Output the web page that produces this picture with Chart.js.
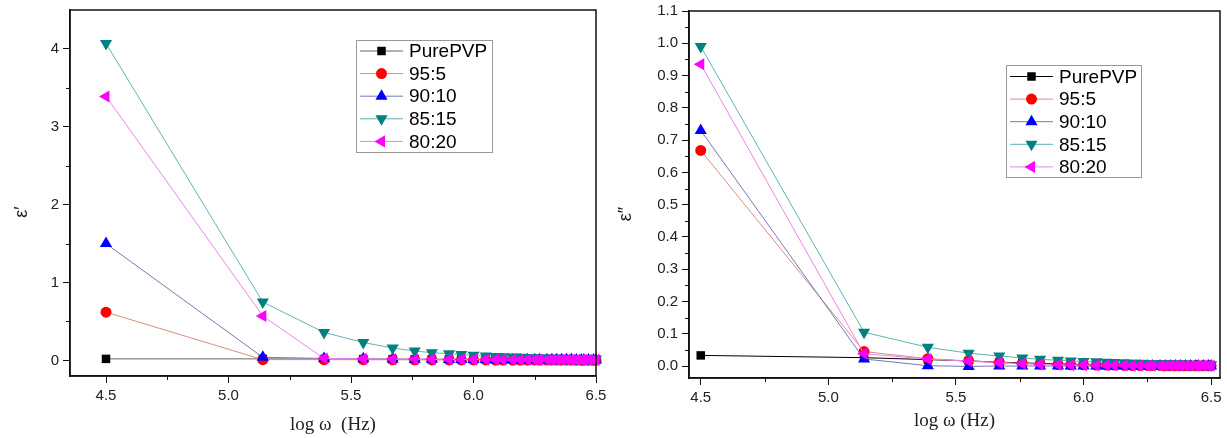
<!DOCTYPE html>
<html>
<head>
<meta charset="utf-8">
<script src="https://cdn.jsdelivr.net/npm/chart.js@4.4.1/dist/chart.umd.min.js"></script>
<style>
  html, body { margin: 0; padding: 0; background: #fff; }
  #left  { position: absolute; left: 0;     top: 0; width: 612px; height: 438px; }
  #right { position: absolute; left: 612px; top: 0; width: 615px; height: 438px; }
</style>
</head>
<body>
<div id="left"><canvas id="realChart"></canvas></div>
<div id="right"><canvas id="imagChart"></canvas></div>
<script>
// x values: log of angular frequency
const logW = [4.50, 5.14, 5.39, 5.55, 5.67, 5.76, 5.83, 5.90, 5.95, 6.00,
              6.05, 6.09, 6.12, 6.16, 6.19, 6.22, 6.25, 6.27, 6.30, 6.32,
              6.34, 6.36, 6.38, 6.40, 6.42, 6.44, 6.45, 6.47, 6.49, 6.50];

const seriesNames = ['PurePVP', '95:5', '90:10', '85:15', '80:20'];

// real part (left)
const epsR_pure = [0.020, 0.020, 0.018, 0.017, 0.016, 0.015, 0.015, 0.014, 0.014, 0.013,
                   0.013, 0.013, 0.012, 0.012, 0.012, 0.012, 0.011, 0.011, 0.011, 0.011,
                   0.011, 0.010, 0.010, 0.010, 0.010, 0.010, 0.010, 0.010, 0.010, 0.010];
const epsR_95   = [0.620, 0.010, 0.010, 0.009, 0.008, 0.008, 0.007, 0.007, 0.006, 0.006,
                   0.006, 0.005, 0.005, 0.005, 0.005, 0.005, 0.004, 0.004, 0.004, 0.004,
                   0.004, 0.004, 0.004, 0.004, 0.003, 0.003, 0.003, 0.003, 0.003, 0.003];
const epsR_90   = [1.500, 0.040, 0.025, 0.020, 0.017, 0.015, 0.014, 0.013, 0.012, 0.011,
                   0.011, 0.010, 0.010, 0.010, 0.009, 0.009, 0.009, 0.009, 0.008, 0.008,
                   0.008, 0.008, 0.008, 0.008, 0.007, 0.007, 0.007, 0.007, 0.007, 0.007];
const epsR_85   = [4.070, 0.750, 0.360, 0.230, 0.160, 0.120, 0.100, 0.085, 0.075, 0.065,
                   0.058, 0.052, 0.047, 0.043, 0.040, 0.037, 0.034, 0.032, 0.030, 0.028,
                   0.027, 0.025, 0.024, 0.023, 0.022, 0.021, 0.020, 0.019, 0.019, 0.018];
const epsR_80   = [3.390, 0.570, 0.025, 0.020, 0.017, 0.015, 0.014, 0.013, 0.012, 0.011,
                   0.011, 0.010, 0.010, 0.010, 0.009, 0.009, 0.009, 0.009, 0.008, 0.008,
                   0.008, 0.008, 0.008, 0.008, 0.007, 0.007, 0.007, 0.007, 0.007, 0.007];

// imaginary part (right)
const epsI_pure = [0.033, 0.026, 0.020, 0.016, 0.012, 0.010, 0.008, 0.007, 0.006, 0.005,
                   0.005, 0.004, 0.004, 0.004, 0.003, 0.003, 0.003, 0.003, 0.003, 0.002,
                   0.002, 0.002, 0.002, 0.002, 0.002, 0.002, 0.002, 0.002, 0.002, 0.002];
const epsI_95   = [0.668, 0.045, 0.023, 0.016, 0.011, 0.008, 0.006, 0.005, 0.004, 0.004,
                   0.003, 0.003, 0.003, 0.002, 0.002, 0.002, 0.002, 0.002, 0.002, 0.001,
                   0.001, 0.001, 0.001, 0.001, 0.001, 0.001, 0.001, 0.001, 0.001, 0.001];
const epsI_90   = [0.730, 0.022, 0.001, -0.001, 0.000, 0.000, 0.000, 0.000, 0.000, 0.000,
                   0.000, 0.000, 0.000, 0.000, 0.000, 0.000, 0.000, 0.000, 0.000, 0.000,
                   0.000, 0.000, 0.000, 0.000, 0.000, 0.000, 0.000, 0.000, 0.000, 0.000];
const epsI_85   = [0.990, 0.105, 0.058, 0.040, 0.031, 0.025, 0.021, 0.018, 0.016, 0.014,
                   0.013, 0.012, 0.011, 0.010, 0.009, 0.009, 0.008, 0.008, 0.007, 0.007,
                   0.007, 0.006, 0.006, 0.006, 0.005, 0.005, 0.005, 0.005, 0.004, 0.004];
const epsI_80   = [0.935, 0.038, 0.022, 0.015, 0.010, 0.007, 0.005, 0.004, 0.003, 0.003,
                   0.002, 0.002, 0.002, 0.002, 0.001, 0.001, 0.001, 0.001, 0.001, 0.001,
                   0.001, 0.001, 0.001, 0.001, 0.001, 0.001, 0.001, 0.001, 0.001, 0.001];

const xTicks = [4.5, 5.0, 5.5, 6.0, 6.5];

// marker / line look per series
const looks = [
  { line: '#555555', fill: '#000000', style: 'rect',     rot: 0,   r: 6 },
  { line: '#e08a80', fill: '#ff0000', style: 'circle',   rot: 0,   r: 5.5 },
  { line: '#7777b8', fill: '#0000ff', style: 'triangle', rot: 0,   r: 7 },
  { line: '#5fb3b3', fill: '#008080', style: 'triangle', rot: 180, r: 7 },
  { line: '#ee80ee', fill: '#ff00ff', style: 'triangle', rot: 270, r: 7 }
];

const sansFont = '"Liberation Sans", Arial, sans-serif';
const serifFont = '"Liberation Serif", "Times New Roman", serif';

function buildSets(list, pureLine) {
  return list.map((vals, i) => {
    const lk = looks[i];
    return {
      label: seriesNames[i],
      data: logW.map((x, k) => ({ x: x, y: vals[k] })),
      borderColor: i === 0 ? pureLine : lk.line,
      borderWidth: 1,
      pointStyle: lk.style,
      pointRotation: lk.rot,
      pointRadius: lk.r,
      pointBackgroundColor: lk.fill,
      pointBorderWidth: 0,
      tension: 0,
      clip: false,
      order: 5 - i
    };
  });
}

// frame, minor ticks, y title and boxed legend
const decor = {
  id: 'decor',
  afterDraw(chart, args, o) {
    const { ctx, chartArea: a } = chart;
    const xs = chart.scales.x, ys = chart.scales.y;
    ctx.save();
    ctx.strokeStyle = '#111';
    ctx.lineWidth = 1.5;
    ctx.strokeRect(a.left, a.top, a.right - a.left, a.bottom - a.top);

    ctx.lineWidth = 1;
    ctx.beginPath();
    for (let v = Math.ceil(xs.min / o.xMinor) * o.xMinor; v <= xs.max + 1e-9; v += o.xMinor) {
      if (Math.abs(v / o.xMajor - Math.round(v / o.xMajor)) < 1e-6) continue;
      const px = Math.round(xs.getPixelForValue(v)) + 0.5;
      ctx.moveTo(px, a.bottom); ctx.lineTo(px, a.bottom + 4);
    }
    for (let v = Math.ceil(ys.min / o.yMinor) * o.yMinor; v <= ys.max - 1e-6; v += o.yMinor) {
      if (Math.abs(v / o.yMajor - Math.round(v / o.yMajor)) < 1e-6) continue;
      const py = Math.round(ys.getPixelForValue(v)) + 0.5;
      ctx.moveTo(a.left, py); ctx.lineTo(a.left - 4, py);
    }
    ctx.stroke();

    // y title
    ctx.save();
    ctx.translate(o.titleX, o.titleY);
    ctx.rotate(-Math.PI / 2);
    ctx.fillStyle = '#222';
    ctx.font = '18px ' + sansFont;
    ctx.textAlign = 'center';
    ctx.textBaseline = 'middle';
    ctx.fillText(o.title, 0, 0);
    ctx.restore();

    // legend
    const L = o.legend;
    ctx.fillStyle = '#fff';
    ctx.fillRect(L.x, L.y, L.w, L.h);
    ctx.strokeStyle = '#999';
    ctx.lineWidth = 1;
    ctx.strokeRect(L.x + 0.5, L.y + 0.5, L.w, L.h);
    ctx.font = '19px ' + sansFont;
    ctx.textBaseline = 'middle';
    ctx.textAlign = 'left';
    chart.data.datasets.forEach((ds, i) => {
      const y = L.y + L.first + i * L.dy;
      const x0 = L.x + 4, x1 = L.x + 47;
      ctx.strokeStyle = ds.borderColor;
      ctx.lineWidth = 1;
      ctx.beginPath(); ctx.moveTo(x0, y); ctx.lineTo(x1, y); ctx.stroke();
      ctx.fillStyle = ds.pointBackgroundColor;
      Chart.helpers.drawPoint(ctx, {
        pointStyle: ds.pointStyle, radius: ds.pointRadius,
        rotation: ds.pointRotation, borderWidth: 0
      }, (x0 + x1) / 2, y);
      ctx.fillStyle = '#000';
      ctx.fillText(ds.label, x1 + 6, y + 1);
    });
    ctx.restore();
  }
};

function makeChart(id, sets, cfg) {
  return new Chart(document.getElementById(id), {
    type: 'line',
    data: { datasets: sets },
    options: {
      responsive: true,
      maintainAspectRatio: false,
      animation: false,
      layout: { padding: { left: 0, top: cfg.top, right: cfg.right, bottom: 0 } },
      plugins: {
        legend: { display: false },
        tooltip: { enabled: false },
        decor: cfg.decor
      },
      scales: {
        x: {
          type: 'linear',
          min: cfg.xMin, max: cfg.xMax,
          afterBuildTicks: s => { s.ticks = xTicks.map(v => ({ value: v })); },
          afterFit: s => { s.height = cfg.xHeight; s.paddingLeft = 0; s.paddingRight = 0; },
          ticks: {
            autoSkip: false, maxRotation: 0, padding: 4, color: '#222',
            font: { family: sansFont, size: 15 },
            callback: v => v.toFixed(1)
          },
          grid: { drawOnChartArea: false, drawTicks: true, tickLength: 7, color: '#111', lineWidth: 1 },
          border: { display: true, color: '#111', width: 1.5 },
          title: {
            display: true, text: cfg.xTitle, color: '#222',
            font: { family: serifFont, size: 19 },
            padding: { top: 0, bottom: cfg.xTitlePad }
          }
        },
        y: {
          type: 'linear',
          min: cfg.yMin, max: cfg.yMax,
          afterFit: s => { s.width = cfg.yWidth; s.paddingTop = 0; s.paddingBottom = 0; },
          ticks: {
            stepSize: cfg.yStep, autoSkip: false, padding: 4, color: '#222',
            includeBounds: false,
            font: { family: sansFont, size: 15 },
            callback: v => v.toFixed(cfg.yDec)
          },
          grid: { drawOnChartArea: false, drawTicks: true, tickLength: 7, color: '#111', lineWidth: 1 },
          border: { display: true, color: '#111', width: 1.5 }
        }
      }
    },
    plugins: [decor]
  });
}

makeChart('realChart',
  buildSets([epsR_pure, epsR_95, epsR_90, epsR_85, epsR_80], '#666666'),
  {
    top: 10, right: 16, xHeight: 62, yWidth: 70,
    xMin: 4.353, xMax: 6.5, yMin: -0.2, yMax: 4.5, yStep: 1, yDec: 0,
    xTitle: 'log ω  (Hz)', xTitlePad: 2,
    decor: {
      xMinor: 0.25, xMajor: 0.5, yMinor: 0.5, yMajor: 1,
      title: 'ε′', titleX: 22, titleY: 212,
      legend: { x: 356, y: 40, w: 136, h: 112, first: 11, dy: 22.6 }
    }
  });

makeChart('imagChart',
  buildSets([epsI_pure, epsI_95, epsI_90, epsI_85, epsI_80], '#000000'),
  {
    top: 11, right: 1, xHeight: 60, yWidth: 77,
    xMin: 4.454, xMax: 6.535, yMin: -0.037, yMax: 1.1, yStep: 0.1, yDec: 1,
    xTitle: 'log ω (Hz)', xTitlePad: 6,
    decor: {
      xMinor: 0.25, xMajor: 0.5, yMinor: 0.05, yMajor: 0.1,
      title: 'ε″', titleX: 14, titleY: 214,
      legend: { x: 394, y: 65, w: 135, h: 112, first: 11.5, dy: 22.6 }
    }
  });
</script>
</body>
</html>
